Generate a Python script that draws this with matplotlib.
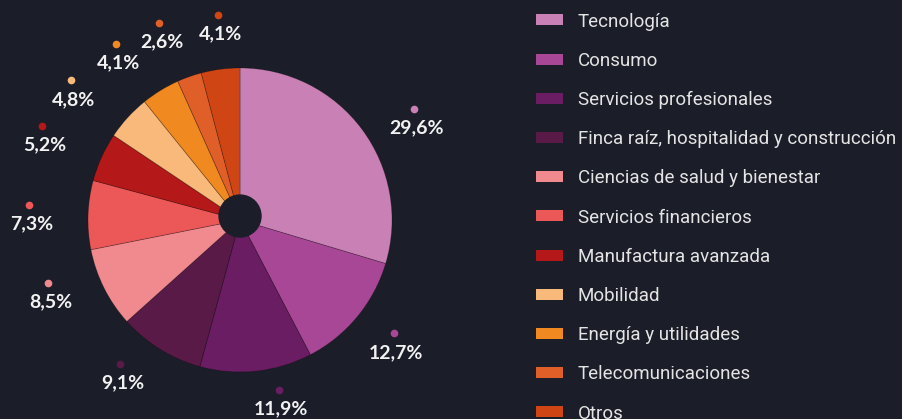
import matplotlib.pyplot as plt
import numpy as np

# datos del gráfico
categorias = ['Tecnología', 'Consumo', 'Servicios profesionales',
              'Finca raíz, hospitalidad y construcción',
              'Ciencias de salud y bienestar', 'Servicios financieros',
              'Manufactura avanzada', 'Mobilidad', 'Energía y utilidades',
              'Telecomunicaciones', 'Otros']
valores = [29.6, 12.7, 11.9, 9.1, 8.5, 7.3, 5.2, 4.8, 4.1, 2.6, 4.1]
etiquetas = ['29,6%', '12,7%', '11,9%', '9,1%', '8,5%', '7,3%',
             '5,2%', '4,8%', '4,1%', '2,6%', '4,1%']
colores = ['#c980b4', '#a84795', '#6a1d62', '#5a1a48', '#f08a8f', '#ec5757',
           '#b41818', '#f9b97a', '#f0891f', '#e05e27', '#d04514']

# ajuste de la posición de cada etiqueta (grados respecto al centro del sector, radio)
ajuste_ang = [-4.1, 3.1, 6.7, -8.2, -8.5, -2.1, -1.0, 2.9, 3.7, 2.9, -1.3]
radio_etq = [1.356, 1.256, 1.147, 1.233, 1.330, 1.393, 1.442, 1.443, 1.416, 1.401, 1.356]

fondo = '#1b1e29'
texto = '#f2f2f2'

fig = plt.figure(figsize=(9.02, 4.19), dpi=100, facecolor=fondo)
ax = fig.add_axes([0, 0, 1, 1])
ax.set_facecolor(fondo)

wedges, _ = ax.pie(valores, colors=colores, startangle=90, counterclock=False,
                   radius=1.0, center=(0, 0), frame=True,
                   wedgeprops=dict(linewidth=0.6, edgecolor=(0, 0, 0, 0.25)))
ax.set_xlim(-1.579, 4.355)
ax.set_ylim(-1.309, 1.447)
ax.axis('off')

# agujero central
ax.add_patch(plt.Circle((0, 0.026), 0.138, color=fondo, zorder=5))

# etiquetas con punto
for w, lab, col, da, r in zip(wedges, etiquetas, colores, ajuste_ang, radio_etq):
    ang = np.deg2rad((w.theta1 + w.theta2) / 2 + da)
    x = r * np.cos(ang)
    y = r * np.sin(ang)
    ax.plot(x, y, 'o', color=col, markersize=5.5, markeredgewidth=0, clip_on=False)
    ax.text(x + 0.017, y - 0.125, lab, color=texto, fontsize=14,
            fontfamily='Lato', fontweight='bold', ha='center', va='center')

leg = ax.legend(wedges, categorias, loc='upper left',
                bbox_to_anchor=(0.594, 0.970), bbox_transform=fig.transFigure,
                frameon=False, fontsize=13.5, handlelength=1.45,
                handleheight=0.53, handletextpad=0.8, labelspacing=1.13,
                borderaxespad=0, borderpad=0)
for t in leg.get_texts():
    t.set_color('#e4e4e4')
    t.set_fontfamily('Roboto')
for h in leg.get_patches():
    h.set_linewidth(0)

fig.savefig('out.png', dpi=100, facecolor=fondo)
